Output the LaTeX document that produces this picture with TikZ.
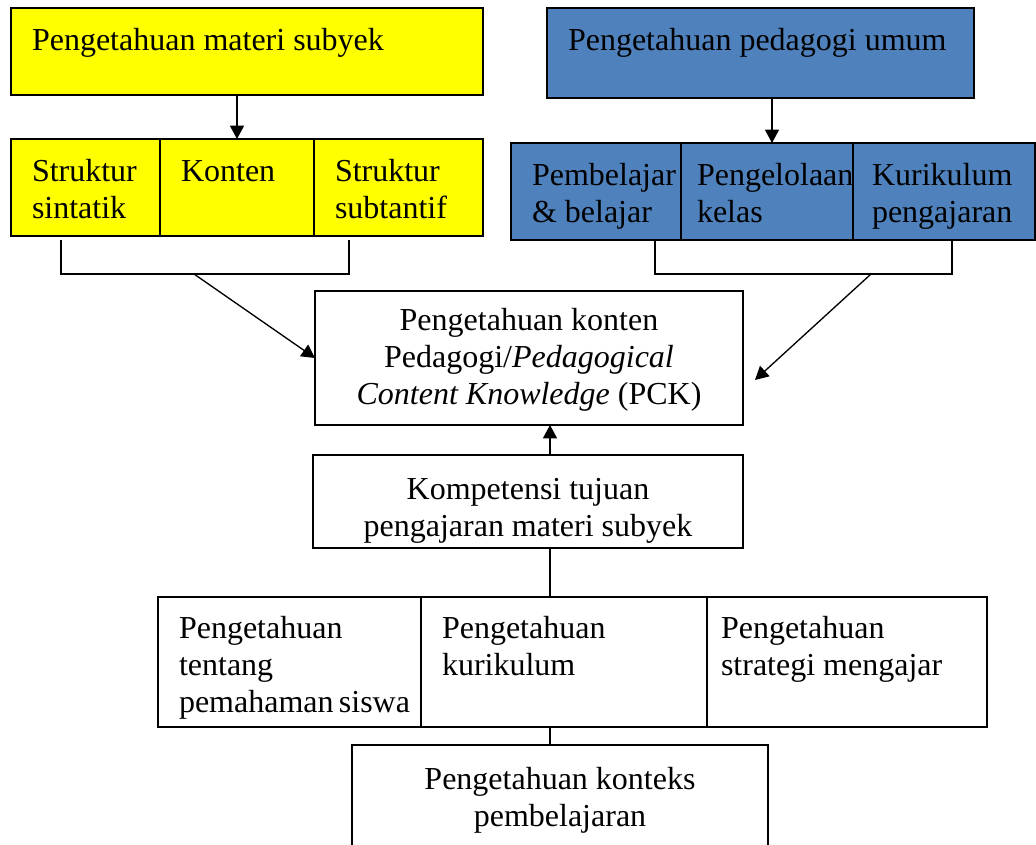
\documentclass[tikz,border=0pt]{standalone}
\usepackage{fontspec}
\setmainfont{Liberation Serif}
\usetikzlibrary{arrows.meta}
\hyphenpenalty=10000
\exhyphenpenalty=10000
\definecolor{kuning}{RGB}{255,255,0}
\definecolor{biru}{RGB}{79,129,189}
\newcommand{\isi}[4]{\parbox[t][\dimexpr#2-2\dimexpr\pgfkeysvalueof{/pgf/inner ysep}\relax\relax][t]{\dimexpr#1-2\dimexpr\pgfkeysvalueof{/pgf/inner xsep}\relax\relax}{#3\strut#4}}

\begin{document}
\begin{tikzpicture}[x=0.75pt,y=-0.75pt,>={Triangle[length=10pt,width=10.5pt]},
    kotak/.style={draw,line width=1pt,anchor=north west,inner xsep=15.75pt,inner ysep=12.75pt,outer sep=0pt,font=\fontsize{24}{27.6}\selectfont},
    garis/.style={line width=1pt}]
        \useasboundingbox (0,0) rectangle (1036,844);
        \node[kotak,fill=kuning] (matsub) at (11,8) {\isi{354pt}{65.25pt}{\raggedright}{Pengetahuan materi subyek}};
        \node[kotak,fill=kuning] (sintatik) at (11,139) {\isi{111.75pt}{72.75pt}{\raggedright}{Struktur\\sintatik}};
        \node[kotak,fill=kuning] (konten) at (sintatik.north east) {\isi{115.5pt}{72.75pt}{\raggedright}{Konten}};
        \node[kotak,fill=kuning] (subtantif) at (konten.north east) {\isi{126.75pt}{72.75pt}{\raggedright}{Struktur\\subtantif}};
        \node[kotak,fill=biru] (pedum) at (547,8) {\isi{320.25pt}{67.5pt}{\raggedright}{Pengetahuan pedagogi umum}};
        \node[kotak,fill=biru] (belajar) at (511,143) {\isi{127.5pt}{72.75pt}{\raggedright}{Pembelajar\\\&~belajar}};
        \node[kotak,fill=biru,inner xsep=12pt] (kelas) at (belajar.north east) {\isi{129pt}{72.75pt}{\raggedright}{Pengelolaan\\kelas}};
        \node[kotak,fill=biru,inner xsep=14.25pt] (kurpeng) at (kelas.north east) {\isi{136.5pt}{72.75pt}{\raggedright}{Kurikulum\\pengajaran}};
        \node[kotak,inner ysep=10.5pt] (pck) at (315,291) {\isi{321pt}{100.5pt}{\centering}{Pengetahuan konten\\Pedagogi/\textit{Pedagogical}\\\textit{Content Knowledge} (PCK)}};
        \node[kotak,inner ysep=14.25pt] (komp) at (313,455) {\isi{322.5pt}{69.75pt}{\centering}{Kompetensi tujuan\\pengajaran materi subyek}};
        \node[kotak,inner ysep=12pt] (siswa) at (158,597) {\isi{197.25pt}{97.5pt}{\raggedright}{Pengetahuan\\tentang\\pemahaman~siswa}};
        \node[kotak,inner ysep=12pt] (kurik) at (siswa.north east) {\isi{214.5pt}{97.5pt}{\raggedright}{Pengetahuan\\kurikulum}};
        \node[kotak,inner xsep=10.5pt,inner ysep=12pt] (strategi) at (kurik.north east) {\isi{210pt}{97.5pt}{\raggedright}{Pengetahuan\\strategi~mengajar}};
        \node[kotak,inner ysep=14.25pt] (konteks) at (352,745) {\isi{312pt}{82.5pt}{\centering}{Pengetahuan konteks\\pembelajaran}};
        \draw[garis,->] (matsub.south -| konten.north) -- (konten.north);
        \coordinate (tengahbiru) at (772,0);
        \draw[garis,->] (pedum.south -| tengahbiru) -- (kelas.north -| tengahbiru);
        \coordinate (kA) at (61,240);
        \coordinate (kB) at (349,240);
        \coordinate (kC) at (194,274);
        \coordinate (bA) at (655,240);
        \coordinate (bB) at (952,240);
        \coordinate (bC) at (871,274);
        \coordinate (bD) at (755,380);
        \coordinate (tengah) at (550,0);
        \draw[garis] (kA) -- ++(0,34) -| (kB);
        \draw[garis] (bA) -- ++(0,34) -| (bB);
        \draw[garis,->] (kC) -- (pck.west);
        \draw[garis,->] (bC) -- (bD);
        \draw[garis,->] (komp.north -| tengah) -- (pck.south -| tengah);
        \draw[garis] (komp.south -| tengah) -- (kurik.north -| tengah);
        \draw[garis] (kurik.south -| tengah) -- (konteks.north -| tengah);
      \end{tikzpicture}
\end{document}
